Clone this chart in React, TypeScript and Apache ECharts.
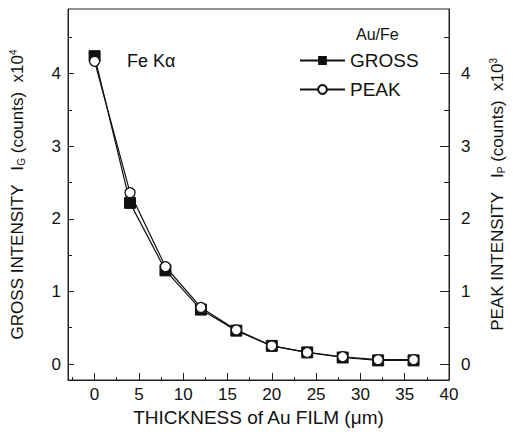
import React, { useEffect, useRef } from "react";
import * as echarts from "echarts";

const thickness = [0, 4, 8, 12, 16, 20, 24, 28, 32, 36];
const gross = [4.24, 2.22, 1.29, 0.75, 0.46, 0.25, 0.16, 0.09, 0.05, 0.05];
const peak = [4.17, 2.36, 1.34, 0.78, 0.47, 0.25, 0.16, 0.1, 0.06, 0.06];

const xMajor = [0, 5, 10, 15, 20, 25, 30, 35, 40];
const xMinor = [-2.5, 2.5, 7.5, 12.5, 17.5, 22.5, 27.5, 32.5, 37.5];
const yMajor = [0, 1, 2, 3, 4];
const yMinor = [0.5, 1.5, 2.5, 3.5, 4.5];

const FONT = "Liberation Sans";
const INK = "#111";

export default function App() {
  const ref = useRef<HTMLDivElement>(null);
  useEffect(() => {
    if (!ref.current) return;
    const chart = echarts.init(ref.current, null, { renderer: "svg" });
    const yMin = -0.22;
    const yMax = 4.89;
    const xMin = -3;
    const xMax = 40;
    const rich = {
      a: { fontSize: 17, fontFamily: FONT, color: INK },
      sub: { fontSize: 10, fontFamily: FONT, color: INK, verticalAlign: "bottom", padding: [8, 0, 0, 0] },
      sup: { fontSize: 10, fontFamily: FONT, color: INK, verticalAlign: "top", padding: [0, 0, 8, 0] },
    };
    const baseY = {
      type: "value",
      min: yMin,
      max: yMax,
      splitLine: { show: false },
    };
    chart.setOption({
      animation: false,
      backgroundColor: "#fff",
      grid: {
        left: 62,
        top: 9,
        right: 56,
        bottom: 52,
        show: true,
        borderColor: "#222",
        borderWidth: 1,
        containLabel: false,
      },
      xAxis: [
        {
          type: "value",
          min: xMin,
          max: xMax,
          splitLine: { show: false },
          axisLine: { show: true, onZero: false, lineStyle: { color: "#222", width: 1 } },
          axisTick: { show: true, inside: true, length: 7, customValues: xMajor, lineStyle: { color: "#222" } },
          axisLabel: {
            customValues: xMajor,
            fontSize: 17,
            fontFamily: FONT,
            color: INK,
            margin: 6,
          },
          name: "THICKNESS of Au FILM (\u03bcm)",
          nameLocation: "middle",
          nameGap: 27,
          nameTextStyle: { fontSize: 19, fontFamily: FONT, color: INK, verticalAlign: "top" },
        },
        {
          type: "value",
          position: "bottom",
          min: xMin,
          max: xMax,
          splitLine: { show: false },
          axisLine: { show: false, onZero: false },
          axisTick: { show: true, inside: true, length: 3, customValues: xMinor, lineStyle: { color: "#222" } },
          axisLabel: { show: false },
        },
      ],
      yAxis: [
        {
          ...baseY,
          position: "left",
          axisLine: { show: true, onZero: false, lineStyle: { color: "#222", width: 1 } },
          axisTick: { show: true, inside: true, length: 6, customValues: yMajor, lineStyle: { color: "#222" } },
          axisLabel: { customValues: yMajor, fontSize: 17, fontFamily: FONT, color: INK, margin: 7 },
          name: "{a|GROSS INTENSITY   I}{sub|G}{a| (counts)  x10}{sup|4}",
          nameLocation: "middle",
          nameRotate: 90,
          nameGap: 42,
          nameTextStyle: { rich },
        },
        {
          ...baseY,
          position: "right",
          axisLine: { show: true, onZero: false, lineStyle: { color: "#222", width: 1 } },
          axisTick: { show: true, inside: true, length: 9, customValues: yMajor, lineStyle: { color: "#222" } },
          axisLabel: { customValues: yMajor, fontSize: 17, fontFamily: FONT, color: INK, margin: 12 },
          name: "{a|PEAK INTENSITY   I}{sub|P}{a| (counts)  x10}{sup|3}",
          nameLocation: "middle",
          nameRotate: 90,
          nameGap: 39,
          nameTextStyle: { rich },
        },
        {
          ...baseY,
          position: "left",
          axisLine: { show: false, onZero: false },
          axisTick: { show: true, inside: true, length: 4, customValues: yMinor, lineStyle: { color: "#222" } },
          axisLabel: { show: false },
        },
        {
          ...baseY,
          position: "right",
          axisLine: { show: false, onZero: false },
          axisTick: { show: true, inside: true, length: 5, customValues: yMinor, lineStyle: { color: "#222" } },
          axisLabel: { show: false },
        },
      ],
      legend: {
        orient: "vertical",
        left: 294,
        top: 46,
        itemWidth: 45,
        itemHeight: 11,
        itemGap: 10,
        textStyle: { fontSize: 19, fontFamily: FONT, color: INK },
        data: ["GROSS", "PEAK"],
      },
      graphic: [
        {
          type: "text",
          left: 356,
          top: 26,
          style: { text: "Au/Fe", fontSize: 16, fontFamily: FONT, fill: INK },
        },
        {
          type: "text",
          left: 127,
          top: 52,
          style: { text: "Fe K\u03b1", fontSize: 18, fontFamily: FONT, fill: INK },
        },
      ],
      series: [
        {
          name: "GROSS",
          type: "line",
          xAxisIndex: 0,
          yAxisIndex: 0,
          data: thickness.map((t, i) => [t, gross[i]]),
          symbol: "rect",
          symbolSize: 11,
          lineStyle: { color: "#111", width: 1.2 },
          itemStyle: { color: "#111", borderColor: "#111" },
          z: 2,
        },
        {
          name: "PEAK",
          type: "line",
          xAxisIndex: 0,
          yAxisIndex: 1,
          data: thickness.map((t, i) => [t, peak[i]]),
          symbol: "circle",
          symbolSize: 10,
          lineStyle: { color: "#111", width: 1.2 },
          itemStyle: { color: "#fff", borderColor: "#111", borderWidth: 1.3 },
          z: 3,
        },
      ],
    });
    return () => chart.dispose();
  }, []);
  return (
    <div
      ref={ref}
      style={{ position: "fixed", left: 0, top: 0, width: 514, height: 432, background: "#fff" }}
    />
  );
}
